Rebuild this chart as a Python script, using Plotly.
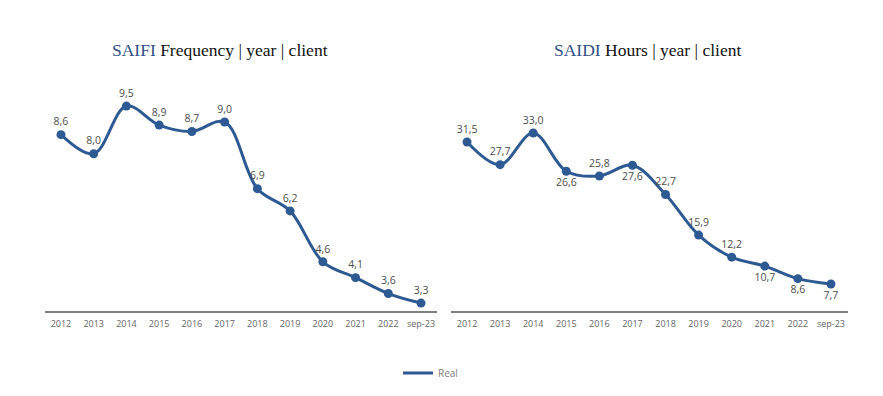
import plotly.graph_objects as go

categories = ["2012", "2013", "2014", "2015", "2016", "2017", "2018", "2019", "2020", "2021", "2022", "sep-23"]
saifi = [8.6, 8.0, 9.5, 8.9, 8.7, 9.0, 6.9, 6.2, 4.6, 4.1, 3.6, 3.3]
saidi = [31.5, 27.7, 33.0, 26.6, 25.8, 27.6, 22.7, 15.9, 12.2, 10.7, 8.6, 7.7]
saifi_pos = ["top center"] * 12
saidi_pos = ["top center", "top center", "top center", "bottom center", "top center", "bottom center",
             "top center", "top center", "top center", "bottom center", "bottom center", "bottom center"]

LINE = "#2E5A93"
fmt = lambda v: f"{v:.1f}".replace(".", ",")

fig = go.Figure()
for xs, ys, vals, pos in [("x", "y", saifi, saifi_pos), ("x2", "y2", saidi, saidi_pos)]:
    fig.add_trace(go.Scatter(
        x=categories, y=vals, mode="lines+markers+text", name="Real",
        line=dict(color=LINE, width=3, shape="spline", smoothing=1.0),
        marker=dict(size=9, color=LINE),
        text=[fmt(v) for v in vals], textposition=pos,
        textfont=dict(family="Open Sans", size=10.5, color="#4d4d4d"),
        xaxis=xs, yaxis=ys, showlegend=False, cliponaxis=False))
# legend-only entry (line sample)
fig.add_trace(go.Scatter(x=[None], y=[None], mode="lines", name="Real",
                         line=dict(color=LINE, width=3), xaxis="x", yaxis="y", showlegend=True))

W, H = 883, 396
OFF = 8  # page body margin
def fx(px):
    return (px - OFF) / W
def fy(py):
    return (H - (py - OFF)) / H

axis_common = dict(showline=True, linecolor="#7f7f7f", linewidth=1.5, showgrid=False, zeroline=False,
                   ticks="", tickfont=dict(family="Open Sans", size=9, color="#666666"),
                   ticklabelstandoff=4, range=[-0.5, 11.5], type="category", fixedrange=True)

fig.update_layout(
    width=W, height=H, margin=dict(l=0, r=0, t=0, b=0),
    paper_bgcolor="white", plot_bgcolor="white",
    xaxis=dict(domain=[fx(44.6), fx(437.4)], anchor="y", **axis_common),
    yaxis=dict(domain=[fy(310.7), fy(80)], range=[3.06, 10.32], visible=False, anchor="x"),
    xaxis2=dict(domain=[fx(450.5), fx(847.5)], anchor="y2", **axis_common),
    yaxis2=dict(domain=[fy(310.7), fy(80)], range=[3.23, 41.88], visible=False, anchor="x2"),
    legend=dict(orientation="h", x=fx(398), y=fy(373), xanchor="left", yanchor="middle",
                font=dict(family="Open Sans", size=10, color="#7f7f7f"), itemwidth=30,
                bgcolor="rgba(0,0,0,0)"),
    annotations=[
        dict(text="<span style='color:#2F4F86'>SAIFI</span> Frequency | year | client",
             x=fx(220), y=fy(50), xref="paper", yref="paper", showarrow=False,
             xanchor="center", yanchor="middle",
             font=dict(family="Liberation Serif", size=17.5, color="#111111")),
        dict(text="<span style='color:#2F4F86'>SAIDI</span> Hours | year | client",
             x=fx(647), y=fy(50), xref="paper", yref="paper", showarrow=False,
             xanchor="center", yanchor="middle",
             font=dict(family="Liberation Serif", size=17.5, color="#111111")),
    ],
)

fig.write_html("out.html")
